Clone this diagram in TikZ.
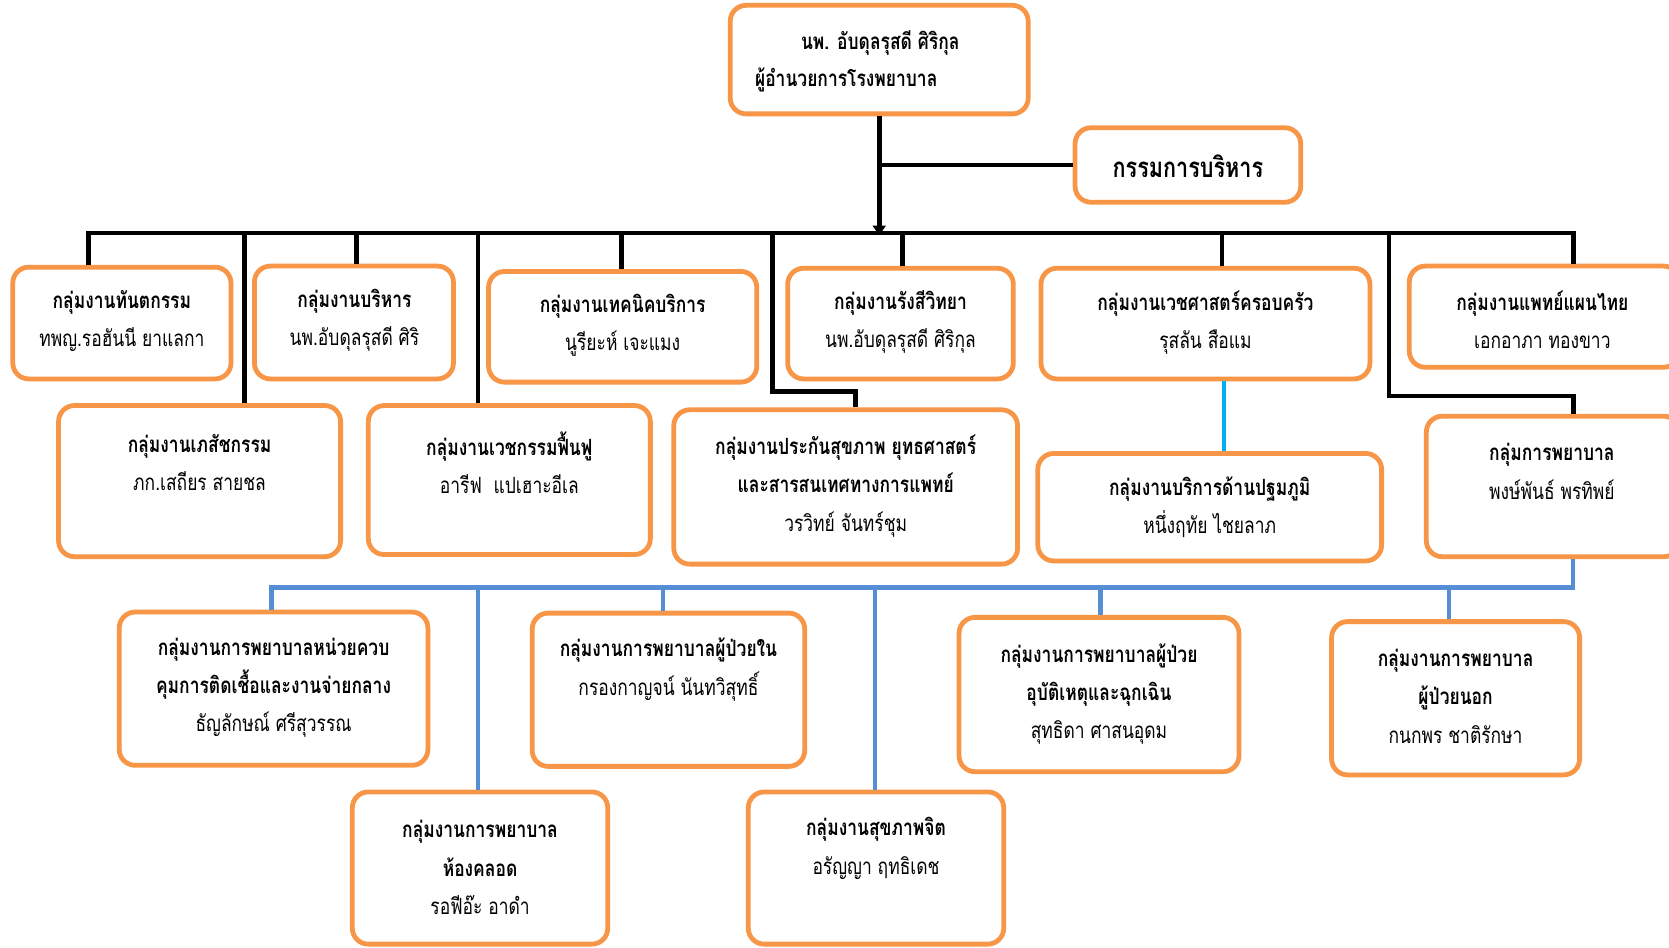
\documentclass[tikz,border=0pt]{standalone}
\usepackage{fontspec}
\setmainfont[Script=Thai, FakeStretch=0.78]{Loma}
\usetikzlibrary{arrows.meta}
\definecolor{orgC}{HTML}{F79646}
\definecolor{bluC}{HTML}{558ED5}
\definecolor{cyaC}{HTML}{00B0F0}
\tikzset{
  obox/.style={draw=orgC, line width=4.5pt, rounded corners=15pt, fill=white, inner sep=0pt},
  tt/.style={align=center, inner sep=0pt, font=\fontsize{21}{36}\selectfont},
  blk/.style={draw=black, line width=4.5pt, line join=miter},
  blu/.style={draw=bluC, line width=4pt, line join=miter},
  cya/.style={draw=cyaC, line width=4pt},
}
\newcommand\orgbox[5]{\node[obox, minimum width={(#4-#2)*1pt}, minimum height={(#5-#3)*1pt}] (#1) at ({(#2+#4)/2},{(#3+#5)/2}) {};}
\begin{document}
\begin{tikzpicture}[x=1pt,y=-1pt]
\useasboundingbox (0,0) rectangle (1568,890);
\clip (0,0) rectangle (1568,890);
\fill[white] (0,0) rectangle (1568,890);
% junction coordinates
\coordinate (j1) at (83,219);
\coordinate (j2) at (335,219);
\coordinate (j3) at (584,219);
\coordinate (j4) at (848,219);
\coordinate (j5) at (1148,219);
\coordinate (j6) at (1478,219);
\coordinate (j7) at (230,219);
\coordinate (j8) at (449,219);
\coordinate (j9) at (726,219);
\coordinate (j9b) at (804,368);
\coordinate (j11) at (1305,219);
\coordinate (j11b) at (1478,372);
\coordinate (jtop) at (826,219);
\coordinate (k5) at (1150,356);
\coordinate (q11) at (1478,523);
\coordinate (q0) at (1478,552);
\coordinate (q12) at (255,552);
\coordinate (q16) at (449,552);
\coordinate (q13) at (623,552);
\coordinate (q17) at (822,552);
\coordinate (q14) at (1034,552);
\coordinate (q15) at (1361,552);
% boxes
\orgbox{b0}{686}{5}{966}{107}
\orgbox{cm}{1010}{120}{1222}{190}
\orgbox{b1}{12}{251}{217}{356}
\orgbox{b2}{239}{250}{426}{356}
\orgbox{b3}{459}{255}{711}{359}
\orgbox{b4}{740}{252}{952}{356}
\orgbox{b5}{978}{252}{1287}{356}
\orgbox{b6}{1324}{250}{1578}{345}
\orgbox{b7}{55}{381}{320}{523}
\orgbox{b8}{346}{381}{611}{521}
\orgbox{b9}{633}{385}{956}{530}
\orgbox{b10}{975}{426}{1298}{527}
\orgbox{b11}{1340}{391}{1578}{523}
\orgbox{b12}{112}{575}{402}{719}
\orgbox{b13}{500}{576}{756}{720}
\orgbox{b14}{901}{580}{1164}{725}
\orgbox{b15}{1251}{584}{1484}{728}
\orgbox{b16}{331}{744}{571}{887}
\orgbox{b17}{703}{744}{943}{887}
% black connectors
\draw[blk] (b1.north -| j1) -- (j1) -- (j6) -- (b6.north -| j6);
\draw[blk] (j2) -- (b2.north -| j2);
\draw[blk] (j3) -- (b3.north -| j3);
\draw[blk] (j4) -- (b4.north -| j4);
\draw[blk] (j5) -- (b5.north -| j5);
\draw[blk] (j7) -- (b7.north -| j7);
\draw[blk] (j8) -- (b8.north -| j8);
\draw[blk] (j9) -- (j9 |- j9b) -- (j9b) -- (b9.north -| j9b);
\draw[blk] (j11) -- (j11 |- j11b) -- (j11b) -- (b11.north -| j11b);
\draw[blk] (cm.west) -- (cm.west -| b0.south);
\draw[blk, -{Triangle[length=9pt,width=12pt]}] (b0.south) -- ([yshift=-2pt]jtop);
% cyan
\draw[cya] (b5.south -| k5) -- (b10.north -| k5);
% blue
\draw[blu] (b11.south -| q11) -- (q0) -- (q12) -- (b12.north -| q12);
\draw[blu] (q16) -- (b16.north -| q16);
\draw[blu] (q13) -- (b13.north -| q13);
\draw[blu] (q17) -- (b17.north -| q17);
\draw[blu] (q14) -- (b14.north -| q14);
\draw[blu] (q15) -- (b15.north -| q15);
% texts
\node[tt] (t0a) at (827,40) {\textbf{นพ. อับดุลรุสดี ศิริกุล}};
\node[tt] (t0b) at (795,75) {\textbf{ผู้อำนวยการโรงพยาบาล}};
\node[tt, font=\fontsize{26}{30}\selectfont] (tcm) at (1116,156) {\textbf{กรรมการบริหาร}};
\node[tt] (t1) at (114.5,301.5) {\textbf{กลุ่มงานทันตกรรม}\\ทพญ.รอฮันนี ยาแลกา};
\node[tt] (t2) at (333,301) {\textbf{กลุ่มงานบริหาร}\\นพ.อับดุลรุสดี ศิริ};
\node[tt] (t3) at (585,305.5) {\textbf{กลุ่มงานเทคนิคบริการ}\\นูรียะห์ เจะแมง};
\node[tt] (t4) at (846,302.5) {\textbf{กลุ่มงานรังสีวิทยา}\\นพ.อับดุลรุสดี ศิริกุล};
\node[tt] (t5) at (1132.5,303) {\textbf{กลุ่มงานเวชศาสตร์ครอบครัว}\\รุสลัน สือแม};
\node[tt] (t6) at (1449,300.5) {\textbf{กลุ่มงานแพทย์แผนไทย}\\เอกอาภา ทองขาว};
\node[tt] (t7) at (187.5,434.5) {\textbf{กลุ่มงานเภสัชกรรม}\\ภก.เสถียร สายชล};
\node[tt] (t8) at (478.5,434.5) {\textbf{กลุ่มงานเวชกรรมฟื้นฟู}\\อารีฟ\ \ แปเฮาะอีเล};
\node[tt] (t9) at (794.5,456.5) {\textbf{กลุ่มงานประกันสุขภาพ ยุทธศาสตร์}\\\textbf{และสารสนเทศทางการแพทย์}\\วรวิทย์ จันทร์ชุม};
\node[tt] (t10) at (1136.5,476.5) {\textbf{กลุ่มงานบริการด้านปฐมภูมิ}\\หนึ่งฤทัย ไชยลาภ};
\node[tt] (t11) at (1458,443) {\textbf{กลุ่มการพยาบาล}\\พงษ์พันธ์ พรทิพย์};
\node[tt] (t12) at (257,646) {\textbf{กลุ่มงานการพยาบาลหน่วยควบ}\\\textbf{คุมการติดเชื้อและงานจ่ายกลาง}\\ธัญลักษณ์ ศรีสุวรรณ};
\node[tt] (t13) at (628,629) {\textbf{กลุ่มงานการพยาบาลผู้ป่วยใน}\\กรองกาญจน์ นันทวิสุทธิ์};
\node[tt] (t14) at (1032.5,652) {\textbf{กลุ่มงานการพยาบาลผู้ป่วย}\\\textbf{อุบัติเหตุและฉุกเฉิน}\\สุทธิดา ศาสนอุดม};
\node[tt] (t15) at (1367.5,654) {\textbf{กลุ่มงานการพยาบาล}\\\textbf{ผู้ป่วยนอก}\\กนกพร ชาติรักษา};
\node[tt] (t16) at (451,815) {\textbf{กลุ่มงานการพยาบาล}\\\textbf{ห้องคลอด}\\รอฟีอ๊ะ อาดำ};
\node[tt] (t17) at (823,797) {\textbf{กลุ่มงานสุขภาพจิต}\\อรัญญา ฤทธิเดช};
\end{tikzpicture}
\end{document}
